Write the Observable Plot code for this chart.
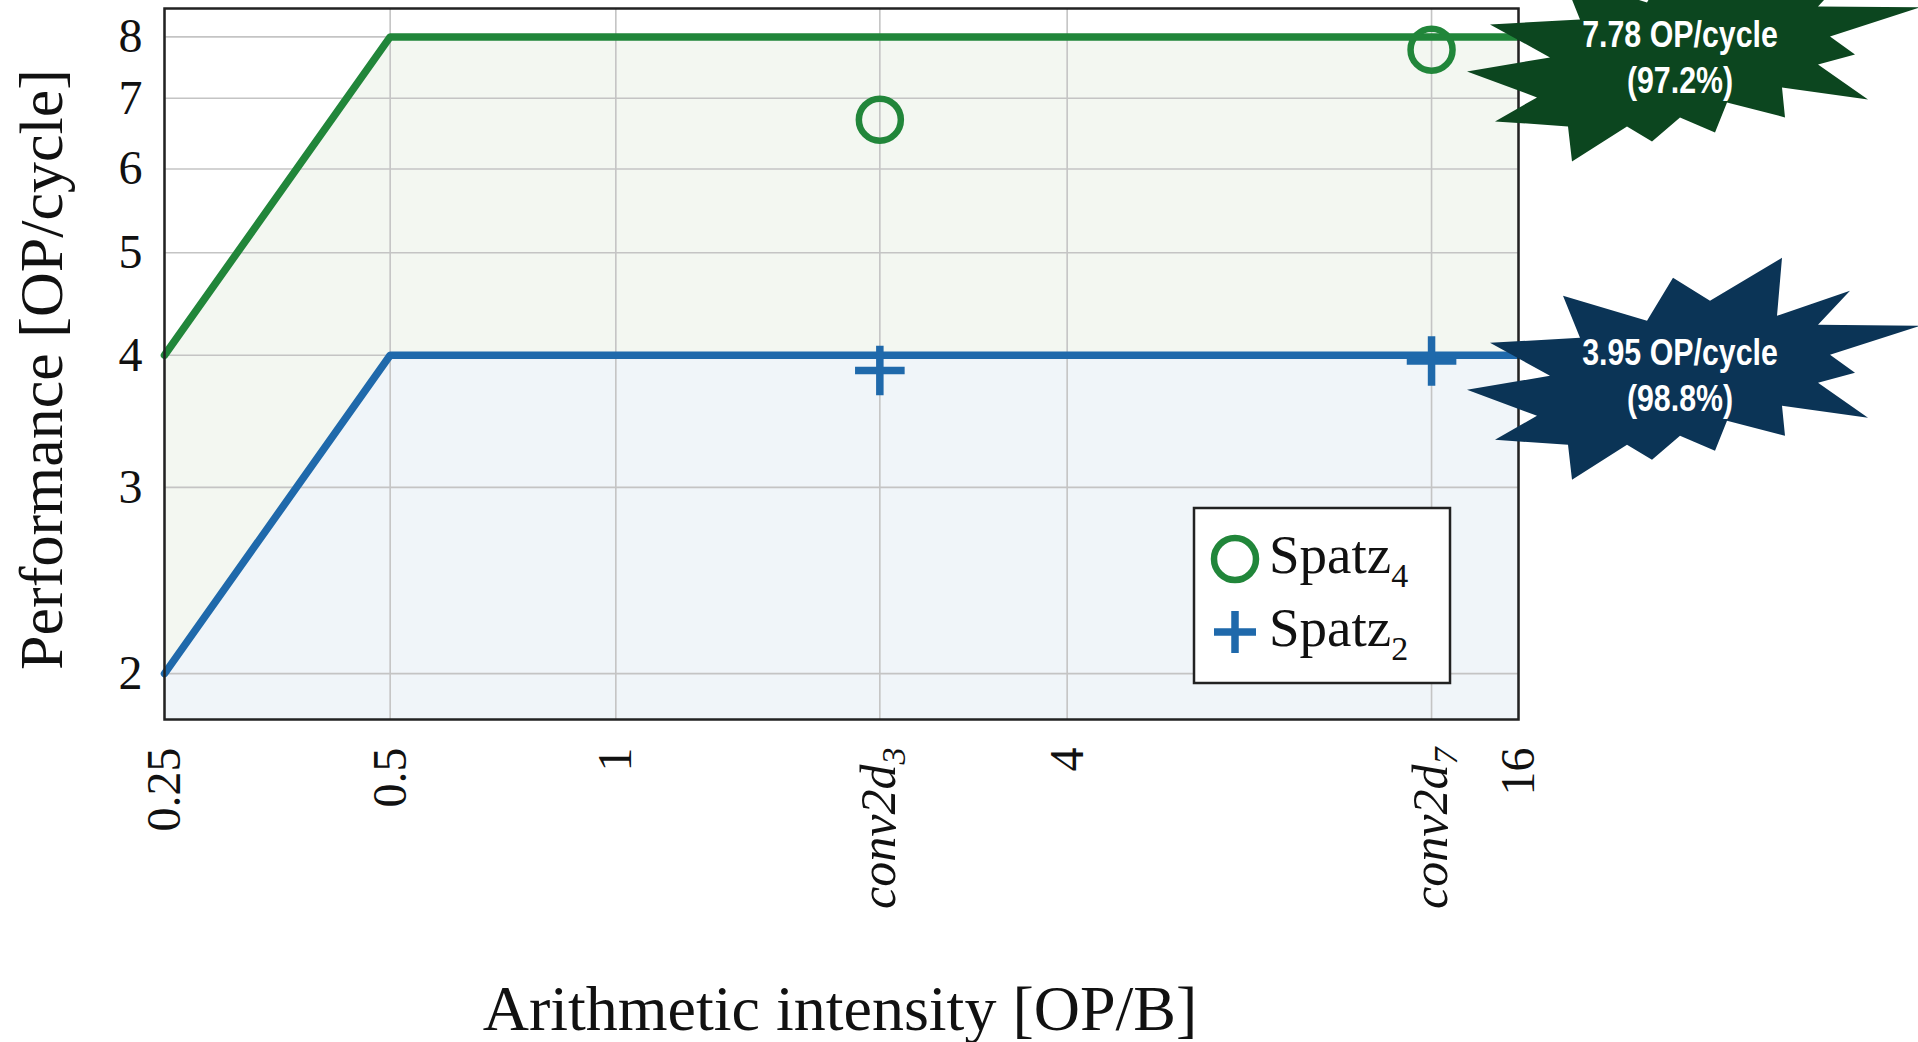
<!DOCTYPE html>
<html>
<head>
<meta charset="utf-8">
<script src="https://cdn.jsdelivr.net/npm/d3@7"></script>
<script src="https://cdn.jsdelivr.net/npm/@observablehq/plot@0.6"></script>
<style>
  html, body { margin: 0; padding: 0; background: #fff; }
  #chart svg { display: block; }
</style>
</head>
<body>
<div id="chart"></div>
<script>
// ---------- data ----------
const xTicks = [0.25, 0.5, 1, 2.25, 4, 12.25, 16];
const xTickLabels = ["0.25", "0.5", "1", "conv2d|3", "4", "conv2d|7", "16"];
const yTicks = [2, 3, 4, 5, 6, 7, 8];
const yTickLabels = ["2", "3", "4", "5", "6", "7", "8"];

const roofX = [0.25, 0.5, 16];
const roofSpatz4 = [4, 8, 8];
const roofSpatz2 = [2, 4, 4];

const kernelNames = ["conv2d3", "conv2d7"];
const kernelX = [2.25, 12.25];
const perfSpatz4 = [6.68, 7.78];
const perfSpatz2 = [3.87, 3.95];

const seriesNames = ["Spatz|4", "Spatz|2"];
const seriesColors = ["#21863a", "#1f69ab"];
const fillColors = ["#f3f7f1", "#f0f5f9"];

const calloutLevel = [8, 4];
const calloutLine1 = ["7.78 OP/cycle", "3.95 OP/cycle"];
const calloutLine2 = ["(97.2%)", "(98.8%)"];
const calloutColors = ["#0c461f", "#0b3456"];

const xTitle = "Arithmetic intensity [OP/B]";
const yTitle = "Performance [OP/cycle]";

const xDomain = [0.25, 16];
const yDomain = [1.81, 8.51];

// ---------- tables ----------
const roof = roofX.map((x, i) => ({x, s4: roofSpatz4[i], s2: roofSpatz2[i]}));
const pts4 = kernelX.map((x, i) => ({x, y: perfSpatz4[i], k: kernelNames[i]}));
const pts2 = kernelX.map((x, i) => ({x, y: perfSpatz2[i], k: kernelNames[i]}));

const W = 1918, H = 1042;
const serif = "'Liberation Serif', 'DejaVu Serif', serif";

const plot = Plot.plot({
  width: W,
  height: H,
  marginLeft: 164,
  marginRight: 400,
  marginTop: 8,
  marginBottom: 323,
  style: {fontFamily: serif, fontSize: "48px", color: "#111", background: "#fff", overflow: "visible"},
  x: {type: "log", base: 2, domain: xDomain},
  y: {type: "log", base: 2, domain: yDomain},
  marks: [
    Plot.areaY(roof, {x: "x", y1: () => yDomain[0], y2: "s4", fill: fillColors[0]}),
    Plot.areaY(roof, {x: "x", y1: () => yDomain[0], y2: "s2", fill: fillColors[1]}),
    Plot.gridX(xTicks, {stroke: "#c4c4c4", strokeOpacity: 1, strokeWidth: 1.6}),
    Plot.gridY(yTicks, {stroke: "#c4c4c4", strokeOpacity: 1, strokeWidth: 1.6}),
    Plot.axisX({
      ticks: xTicks,
      tickFormat: (d) => xTickLabels[xTicks.indexOf(d)],
      tickRotate: -90,
      tickSize: 0,
      tickPadding: 28,
      label: null,
      fontSize: 48
    }),
    Plot.axisY({
      ticks: yTicks,
      tickFormat: (d) => yTickLabels[yTicks.indexOf(d)],
      tickSize: 0,
      tickPadding: 22,
      label: null,
      fontSize: 48
    }),
    Plot.line(roof, {x: "x", y: "s4", stroke: seriesColors[0], strokeWidth: 7.5}),
    Plot.line(roof, {x: "x", y: "s2", stroke: seriesColors[1], strokeWidth: 7.5}),
    Plot.frame({stroke: "#222", strokeWidth: 2.5}),
    Plot.dot(pts4, {x: "x", y: "y", symbol: "circle", r: 21, stroke: seriesColors[0], strokeWidth: 6.5, fill: "none"}),
    Plot.dot(pts2, {x: "x", y: "y", symbol: "plus", r: 16, stroke: seriesColors[1], strokeWidth: 7.5})
  ]
});

document.getElementById("chart").appendChild(plot);

const svg = d3.select(plot);
const sx = plot.scale("x"), sy = plot.scale("y");
const fx0 = sx.apply(xDomain[0]), fx1 = sx.apply(xDomain[1]);
const fy0 = sy.apply(yDomain[1]), fy1 = sy.apply(yDomain[0]);

// subscripts / italics in x tick labels
svg.selectAll('g[aria-label="x-axis tick label"] text').each(function () {
  const t = d3.select(this);
  const s = t.text();
  if (s.includes("|")) {
    const [a, b] = s.split("|");
    t.text("");
    t.append("tspan").attr("font-style", "italic").attr("font-size", "50px").text(a);
    t.append("tspan").attr("font-style", "italic").attr("font-size", "34px").attr("dy", "0.3em").text(b);
  }
});

// axis titles
svg.append("text")
  .attr("x", (fx0 + fx1) / 2 - 1)
  .attr("y", 1030)
  .attr("text-anchor", "middle")
  .attr("font-family", serif)
  .attr("font-size", 64)
  .attr("fill", "#111")
  .text(xTitle);

svg.append("text")
  .attr("transform", `translate(40,${(fy0 + fy1) / 2 + 6}) rotate(-90)`)
  .attr("text-anchor", "middle")
  .attr("dy", "0.35em")
  .attr("font-family", serif)
  .attr("font-size", 62)
  .attr("fill", "#111")
  .text(yTitle);

// legend
const lg = svg.append("g").attr("aria-label", "legend");
const lgRight = fx1 - 68, lgBottom = fy1 - 36;
const lgW = 256, lgH = 175;
lg.append("rect")
  .attr("x", lgRight - lgW).attr("y", lgBottom - lgH)
  .attr("width", lgW).attr("height", lgH)
  .attr("fill", "#fff").attr("stroke", "#222").attr("stroke-width", 2.5);
seriesNames.forEach((name, i) => {
  const cy = lgBottom - lgH + 51 + i * 73;
  const cx = lgRight - lgW + 41;
  if (i === 0) {
    lg.append("circle").attr("cx", cx).attr("cy", cy).attr("r", 21)
      .attr("fill", "none").attr("stroke", seriesColors[0]).attr("stroke-width", 6.5);
  } else {
    lg.append("path").attr("d", `M${cx - 21},${cy}H${cx + 21}M${cx},${cy - 21}V${cy + 21}`)
      .attr("fill", "none").attr("stroke", seriesColors[1]).attr("stroke-width", 7.5);
  }
  const [a, b] = name.split("|");
  const t = lg.append("text").attr("x", cx + 34).attr("y", cy + 14)
    .attr("text-anchor", "start")
    .attr("font-family", serif).attr("font-size", 55).attr("fill", "#111");
  t.append("tspan").text(a);
  t.append("tspan").attr("font-size", 34).attr("dy", 14).text(b);
});

// starburst callouts
const star = [[102,-117],[97,-59],[170,-84],[138,-50],[240,-49],[150,-20],[175,-2],[138,8],[188,43],[102,31],
  [105,61],[47,46],[35,76],[0,61],[-28,85],[-53,70],[-108,105],[-112,70],[-185,65],[-143,41],
  [-213,15],[-130,1],[-190,-32],[-100,-37],[-117,-79],[-33,-54],[-7,-97],[30,-74]];
calloutLevel.forEach((lvl, i) => {
  const cx = sx.apply(xDomain[1]) + 162;
  const cy = sy.apply(lvl) + 20;
  const g = svg.append("g").attr("aria-label", "callout");
  g.append("path")
    .attr("d", "M" + star.map(([dx, dy]) => `${cx + dx},${cy + dy}`).join("L") + "Z")
    .attr("fill", calloutColors[i]);
  [calloutLine1[i], calloutLine2[i]].forEach((s, j) => {
    g.append("text")
      .attr("transform", `translate(${cx},${cy - 23 + j * 46}) scale(0.82,1)`)
      .attr("text-anchor", "middle")
      .attr("dy", "0.36em")
      .attr("font-family", "'Liberation Sans', Arial, sans-serif")
      .attr("font-weight", "bold")
      .attr("font-size", 37)
      .attr("fill", "#fff")
      .text(s);
  });
});
</script>
</body>
</html>
